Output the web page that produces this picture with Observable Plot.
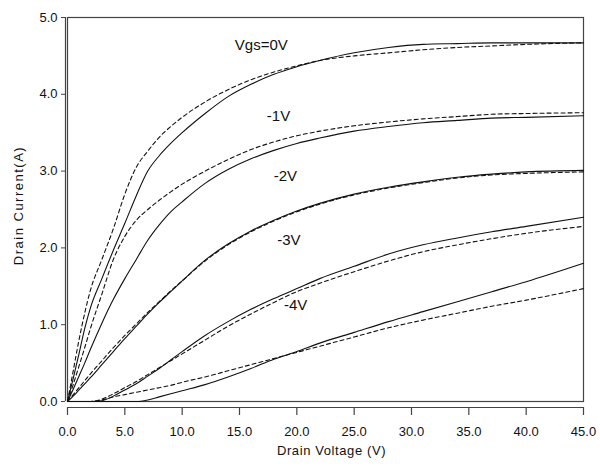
<!DOCTYPE html>
<html><head><meta charset="utf-8">
<script src="https://cdn.jsdelivr.net/npm/d3@7"></script>
<script src="https://cdn.jsdelivr.net/npm/@observablehq/plot@0.6"></script>
<style>
body{margin:0;background:#fff}
svg{font-family:"Liberation Sans",Arial,sans-serif}
</style>
</head><body><div id="chart"></div>
<script>
// Drain voltage grid (V)
const vds = [0, 0.5, 1, 1.5, 2, 3, 4, 5, 6, 7, 8, 9, 10, 12, 14, 16, 18, 20, 22, 25, 28, 31, 34, 37, 40, 45];
// Drain current (A), solid = measured, dashed = model
const vgs0Solid = [0, 0.3, 0.62, 0.95, 1.22, 1.6, 1.97, 2.32, 2.68, 3.0, 3.2, 3.36, 3.5, 3.75, 3.97, 4.13, 4.26, 4.36, 4.44, 4.54, 4.61, 4.65, 4.66, 4.67, 4.67, 4.67];
const vgs0Dash  = [0, 0.4, 0.8, 1.15, 1.45, 1.85, 2.25, 2.7, 3.05, 3.26, 3.44, 3.58, 3.7, 3.9, 4.06, 4.19, 4.29, 4.37, 4.44, 4.5, 4.54, 4.58, 4.61, 4.63, 4.65, 4.67];
const vgs1Solid = [0, 0.16, 0.33, 0.5, 0.68, 1.02, 1.33, 1.6, 1.85, 2.1, 2.3, 2.47, 2.6, 2.84, 3.02, 3.16, 3.27, 3.36, 3.43, 3.52, 3.58, 3.63, 3.66, 3.69, 3.7, 3.72];
const vgs1Dash  = [0, 0.22, 0.46, 0.7, 0.95, 1.4, 1.85, 2.15, 2.36, 2.5, 2.62, 2.73, 2.83, 3.0, 3.15, 3.28, 3.38, 3.46, 3.52, 3.59, 3.64, 3.68, 3.71, 3.74, 3.75, 3.76];
const vgs2Solid = [0, 0.07, 0.15, 0.23, 0.31, 0.48, 0.65, 0.82, 0.98, 1.14, 1.29, 1.43, 1.57, 1.84, 2.05, 2.22, 2.36, 2.48, 2.58, 2.7, 2.79, 2.86, 2.92, 2.96, 2.99, 3.01];
const vgs2Dash  = [0, 0.09, 0.18, 0.27, 0.36, 0.53, 0.7, 0.86, 1.01, 1.16, 1.3, 1.44, 1.57, 1.83, 2.04, 2.21, 2.35, 2.47, 2.57, 2.69, 2.78, 2.85, 2.91, 2.95, 2.97, 2.99];
const vgs3Solid = [0, 0, 0, 0, 0, 0.01, 0.07, 0.15, 0.23, 0.33, 0.43, 0.54, 0.65, 0.86, 1.04, 1.2, 1.34, 1.47, 1.6, 1.76, 1.92, 2.04, 2.13, 2.21, 2.28, 2.4];
const vgs3Dash  = [0, 0, 0, 0, 0, 0.03, 0.1, 0.18, 0.26, 0.35, 0.44, 0.53, 0.62, 0.8, 0.98, 1.14, 1.29, 1.43, 1.54, 1.69, 1.83, 1.95, 2.04, 2.12, 2.19, 2.28];
const vgs4Solid = [0, 0, 0, 0, 0, 0, 0, 0, 0, 0.02, 0.06, 0.1, 0.14, 0.22, 0.32, 0.43, 0.55, 0.65, 0.76, 0.9, 1.04, 1.17, 1.3, 1.43, 1.56, 1.8];
const vgs4Dash  = [0, 0, 0, 0, 0, 0.02, 0.06, 0.09, 0.12, 0.15, 0.18, 0.21, 0.25, 0.32, 0.4, 0.48, 0.56, 0.64, 0.72, 0.84, 0.96, 1.06, 1.15, 1.24, 1.32, 1.47];

const curveLabels = ["Vgs=0V", "-1V", "-2V", "-3V", "-4V"];
const labelV = [16.9, 18.4, 19.0, 19.3, 19.9];
const labelI = [4.64, 3.72, 2.94, 2.10, 1.25];

const xTicks = [0, 5, 10, 15, 20, 25, 30, 35, 40, 45];
const yTicks = [0, 1, 2, 3, 4, 5];

const solidSeries = [vgs0Solid, vgs1Solid, vgs2Solid, vgs3Solid, vgs4Solid];
const dashSeries = [vgs0Dash, vgs1Dash, vgs2Dash, vgs3Dash, vgs4Dash];
const toRows = (list) => list.flatMap((arr, k) => arr.map((c, i) => ({v: vds[i], i: c, s: k})));
const solidRows = toRows(solidSeries);
const dashRows = toRows(dashSeries);
const labelRows = curveLabels.map((t, k) => ({t, v: labelV[k], i: labelI[k]}));

const fmt = d3.format(".1f");
const ink = "#111";
const frameInk = "#444";

const chart = Plot.plot({
  width: 600, height: 469,
  marginLeft: 67, marginRight: 17, marginTop: 17, marginBottom: 68,
  style: {fontFamily: "'Liberation Sans', Arial, sans-serif", fontSize: "13px", color: "#111", background: "#fff"},
  x: {domain: [0, 45]},
  y: {domain: [0, 5]},
  marks: [
    Plot.frame({stroke: frameInk, strokeWidth: 1.2}),
    Plot.ruleX([0], {dx: -2, stroke: frameInk, strokeWidth: 1.2}),
    Plot.ruleY([0], {dy: 6, stroke: frameInk, strokeWidth: 1.2}),
    Plot.axisX({ticks: xTicks, tickFormat: fmt, tickSize: 8, tickPadding: 11, dy: 6, label: null, stroke: frameInk, strokeWidth: 1.2}),
    Plot.axisY({ticks: yTicks, tickFormat: fmt, tickSize: 4, tickPadding: 4, dx: -2, label: null, stroke: frameInk}),
    Plot.line(solidRows, {x: "v", y: "i", z: "s", stroke: ink, strokeWidth: 1.1, curve: "monotone-x"}),
    Plot.line(dashRows, {x: "v", y: "i", z: "s", stroke: ink, strokeWidth: 1.1, strokeDasharray: "4,3", curve: "monotone-x"}),
    Plot.text(labelRows, {x: "v", y: "i", text: "t", fontSize: 15, fill: ink}),
    Plot.text(["Drain Voltage (V)"], {frameAnchor: "bottom", textAnchor: "middle", lineAnchor: "middle", dy: 49, dx: 6, fontSize: 13, fill: ink}),
    Plot.text(["Drain Current(A)"], {frameAnchor: "left", textAnchor: "middle", lineAnchor: "middle", dx: -49, dy: -4, rotate: -90, fontSize: 13, fill: ink})
  ]
});
chart.querySelectorAll("text").forEach(t => {
  if (t.textContent === "Drain Voltage (V)") t.setAttribute("letter-spacing", "0.6");
  if (t.textContent === "Drain Current(A)") t.setAttribute("letter-spacing", "1.5");
});
document.getElementById("chart").appendChild(chart);
</script>
</body></html>
